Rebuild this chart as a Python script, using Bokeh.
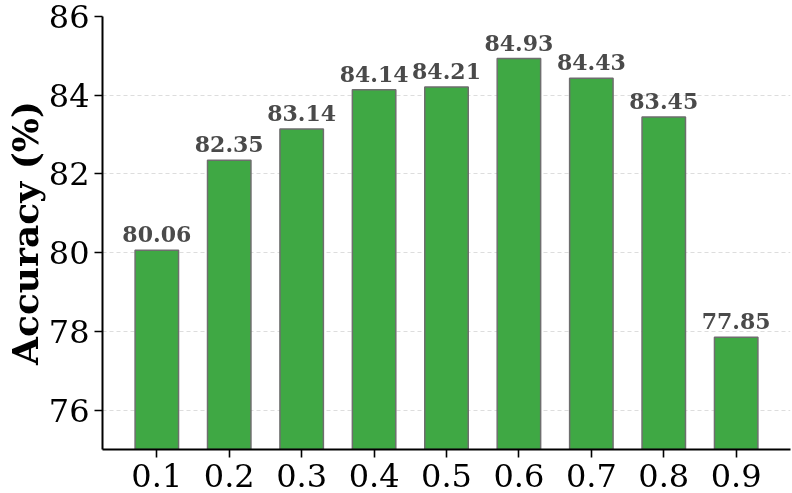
from bokeh.plotting import figure
from bokeh.models import Range1d, FixedTicker, ColumnDataSource, LabelSet
from bokeh.core.properties import value
from bokeh.embed import file_html
from bokeh.resources import INLINE

categories = ["0.1", "0.2", "0.3", "0.4", "0.5", "0.6", "0.7", "0.8", "0.9"]
accuracy = [80.06, 82.35, 83.14, 84.14, 84.21, 84.93, 84.43, 83.45, 77.85]
y_ticks = [76, 78, 80, 82, 84, 86]

idx = list(range(len(categories)))
src = ColumnDataSource(dict(x=idx, top=accuracy, lbl=[f"{v:.2f}" for v in accuracy]))

p = figure(width=792, height=493, output_backend="svg", toolbar_location=None,
           x_range=Range1d(-0.75, len(categories) - 0.25), y_range=Range1d(75, 86),
           min_border_left=102, min_border_right=2, min_border_top=16, min_border_bottom=44)
p.styles = {"position": "fixed", "left": "0px", "top": "0px"}
p.outline_line_color = None
p.background_fill_color = "white"

p.vbar(x="x", top="top", bottom=75, width=0.6, source=src,
       fill_color="#3fa844", line_color="#6e6e6e", line_width=1.5)

labels = LabelSet(x="x", y="top", text="lbl", source=src, text_align="center",
                  text_baseline="alphabetic", y_offset=8, text_font=value("DejaVu Serif"),
                  text_font_style="bold", text_font_size="22px", text_color="#4a4a4a")
p.add_layout(labels)

p.xgrid.grid_line_color = None
p.ygrid.grid_line_color = "#dddddd"
p.ygrid.grid_line_dash = "4 3"
p.ygrid.grid_line_width = 1

p.xaxis.ticker = FixedTicker(ticks=idx)
p.xaxis.major_label_overrides = {i: c for i, c in zip(idx, categories)}
p.yaxis.ticker = FixedTicker(ticks=y_ticks)

for ax in (p.xaxis[0], p.yaxis[0]):
    ax.axis_line_color = "black"
    ax.axis_line_width = 2
    ax.major_tick_line_color = "black"
    ax.major_tick_line_width = 1.6
    ax.major_tick_out = 8
    ax.major_tick_in = 0
    ax.minor_tick_line_color = None
    ax.major_label_text_font = "DejaVu Serif"
    ax.major_label_text_font_size = "32px"
    ax.major_label_text_color = "black"

p.xaxis.major_label_standoff = 6
p.yaxis.major_label_standoff = 5
p.yaxis.axis_label = "Accuracy (%)"
p.yaxis.axis_label_text_font = "DejaVu Serif"
p.yaxis.axis_label_text_font_style = "bold"
p.yaxis.axis_label_text_font_size = "36px"
p.yaxis.axis_label_text_color = "black"
p.yaxis.axis_label_standoff = 0

open("out.html", "w").write(file_html(p, INLINE))
